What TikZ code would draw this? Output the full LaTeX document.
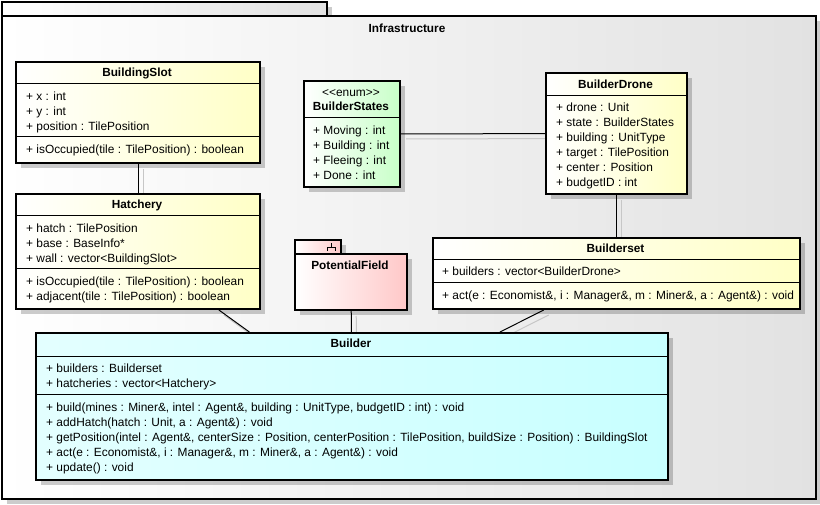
\documentclass[tikz,border=0pt]{standalone}
\usepackage{fontspec}
\setmainfont{Liberation Sans}
\usetikzlibrary{shadows}

\definecolor{pkggray}{RGB}{226,226,226}
\definecolor{clsyellow}{RGB}{255,255,198}
\definecolor{clsgreen}{RGB}{200,255,200}
\definecolor{clspink}{RGB}{255,200,200}
\definecolor{clscyan}{RGB}{200,255,255}

\pgfdeclarelayer{pkg}
\pgfdeclarelayer{links}
\pgfsetlayers{pkg,links,main}

\tikzset{
  shadebox/.style={drop shadow={shadow xshift=5pt, shadow yshift=-5pt, fill=black, opacity=0.2}},
  pkgbox/.style={draw=black, line width=2pt, rectangle, inner sep=0pt, anchor=north west,
    left color=white, right color=pkggray, shadebox},
  classbox/.style={draw=black, line width=2pt, rectangle, inner sep=0pt, anchor=north west, shadebox},
  yellowfill/.style={left color=white, right color=clsyellow},
  greenfill/.style={left color=white, right color=clsgreen},
  pinkfill/.style={left color=white, right color=clspink},
  cyanfill/.style={left color=clscyan!50!white, right color=clscyan},
  title/.style={inner sep=0pt, font=\bfseries\fontsize{11.8}{14}\selectfont, text height=9pt, text depth=1pt},
  row/.style={anchor=west, inner sep=0pt, font=\fontsize{11.9}{14}\selectfont, text height=9pt, text depth=1pt},
  sep/.style={line width=1pt},
  link/.style={line width=1pt},
  linkshadow/.style={line width=1pt, black!22, transform canvas={shift={(5pt,-5pt)}}}
}

\begin{document}
\begin{tikzpicture}[x=1pt, y=-1pt]
\useasboundingbox (0,0) rectangle (820,505);

% package Infrastructure
\begin{pgfonlayer}{pkg}
  \node[pkgbox, minimum width=325, minimum height=14] (infratab) at (1,1) {};
  \node[pkgbox, minimum width=814, minimum height=483] (infra) at (1,15) {};
\end{pgfonlayer}
\node[title] (infra-name) at (407,29) {Infrastructure};

% BuildingSlot
\node[classbox, yellowfill, minimum width=244, minimum height=101] (slot) at (15,61) {};
\node[title] (slot-name) at (137,73) {BuildingSlot};
\draw[sep] (15,84) -- ++(244,0);
\foreach \t [count=\i] in {+ x : int, + y : int, + position : TilePosition}
  \node[row] (slot-a\i) at (26,82+15*\i) {\t};
\draw[sep] (15,137) -- ++(244,0);
\node[row] (slot-o1) at (26,150) {+ isOccupied(tile : TilePosition) : boolean};

% Hatchery
\node[classbox, yellowfill, minimum width=244, minimum height=115] (hatch) at (15,193) {};
\node[title] (hatch-name) at (137,205) {Hatchery};
\draw[sep] (15,216) -- ++(244,0);
\foreach \t [count=\i] in {+ hatch : TilePosition, + base : BaseInfo*, + wall : vector<BuildingSlot>}
  \node[row] (hatch-a\i) at (26,214+15*\i) {\t};
\draw[sep] (15,269) -- ++(244,0);
\foreach \t [count=\i] in {+ isOccupied(tile : TilePosition) : boolean, + adjacent(tile : TilePosition) : boolean}
  \node[row] (hatch-o\i) at (26,267+15*\i) {\t};

% BuilderStates
\node[classbox, greenfill, minimum width=96, minimum height=106] (states) at (303,80) {};
\node[row, anchor=center] (states-tag) at (351,93) {{<}{<}enum{>}{>}};
\node[title] (states-name) at (351,107) {BuilderStates};
\draw[sep] (303,118) -- ++(96,0);
\foreach \t [count=\i] in {+ Moving : int, + Building : int, + Fleeing : int, + Done : int}
  \node[row] (states-a\i) at (313,116+15*\i) {\t};

% BuilderDrone
\node[classbox, yellowfill, minimum width=141, minimum height=121] (drone) at (545,72) {};
\node[title] (drone-name) at (615.5,85) {BuilderDrone};
\draw[sep] (545,96) -- ++(141,0);
\foreach \t [count=\i] in {+ drone : Unit, + state : BuilderStates, + building : UnitType,
    + target : TilePosition, + center : Position, + budgetID : int}
  \node[row] (drone-a\i) at (556,93+15*\i) {\t};

% PotentialField
\node[classbox, pinkfill, minimum width=46, minimum height=14] (pftab) at (294,239) {};
\node[classbox, pinkfill, minimum width=112, minimum height=56] (pf) at (294,253) {};
\node[title] (pf-name) at (350,266) {PotentialField};
\draw[line width=0.8pt] (331,243) -- (331,247) (327,251) -- (327,247) -- (335,247) -- (335,251);

% Builderset
\node[classbox, yellowfill, minimum width=367, minimum height=71] (bset) at (432,237) {};
\node[title] (bset-name) at (615.5,249) {Builderset};
\draw[sep] (432,260) -- ++(367,0);
\node[row] (bset-a1) at (442,272) {+ builders : vector<BuilderDrone>};
\draw[sep] (432,283) -- ++(367,0);
\node[row] (bset-o1) at (442,296) {+ act(e : Economist\&, i : Manager\&, m : Miner\&, a : Agent\&) : void};

% Builder
\node[classbox, cyanfill, minimum width=632, minimum height=147] (builder) at (35,332) {};
\node[title] (builder-name) at (351,344) {Builder};
\draw[sep] (35,356) -- ++(632,0);
\foreach \t [count=\i] in {+ builders : Builderset, + hatcheries : vector<Hatchery>}
  \node[row] (builder-a\i) at (46,353+15*\i) {\t};
\draw[sep] (35,394) -- ++(632,0);
\foreach \t [count=\i] in {{+ build(mines : Miner\&, intel : Agent\&, building : UnitType, budgetID : int) : void},
    {+ addHatch(hatch : Unit, a : Agent\&) : void},
    {+ getPosition(intel : Agent\&, centerSize : Position, centerPosition : TilePosition, buildSize : Position) : BuildingSlot},
    {+ act(e : Economist\&, i : Manager\&, m : Miner\&, a : Agent\&) : void},
    + update() : void}
  \node[row] (builder-o\i) at (46,392+15*\i) {\t};

% associations
\begin{pgfonlayer}{links}
  \foreach \a/\b in {slot/hatch, states/drone, drone/bset, hatch/builder, pf/builder, bset/builder} {
    \draw[linkshadow] (\a) -- (\b);
    \draw[link] (\a) -- (\b);
  }
\end{pgfonlayer}
\end{tikzpicture}
\end{document}
